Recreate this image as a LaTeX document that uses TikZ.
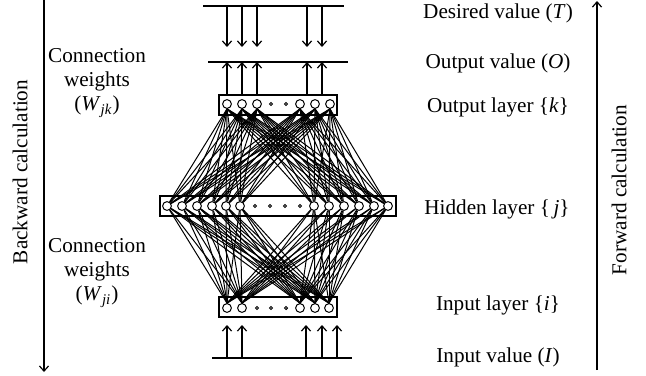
\documentclass[tikz,border=0pt]{standalone}
\usepackage{fontspec}
\setmainfont{Liberation Serif}
\usetikzlibrary{arrows.meta}

\begin{document}
\begin{tikzpicture}[x=0.5pt,y=-0.5pt,>={Straight Barb[length=2.6pt,width=4.6pt]},
  neuron/.style={circle,draw,inner sep=0pt,minimum size=4.4pt,line width=0.5pt},
  smalldot/.style={circle,draw,inner sep=0pt,minimum size=1.6pt,line width=0.45pt},
  layerbox/.style={draw,line width=0.6pt},
  bar/.style={line width=0.6pt},
  link/.style={line width=0.5pt},
  lab/.style={font=\fontsize{10.6}{12}\selectfont,align=center}]
\useasboundingbox (0,0) rectangle (646,375);

% layer boxes
\draw[layerbox] (219,95) rectangle (337,115);
\draw[layerbox] (160,196) rectangle (396,216);
\draw[layerbox] (219,297) rectangle (337,317);

% neurons
\foreach \x [count=\n] in {227,242,257,300,315,330}
  \node[neuron] (o\n) at (\x,104) {};
\foreach \x [count=\n] in {271,286}
  \node[smalldot] (od\n) at (\x,104) {};
\foreach \x [count=\n] in {167,182,197,212,226,240,314,329,344,359,374,388}
  \node[neuron] (h\n) at (\x,206) {};
\foreach \x [count=\n] in {255,270,285,300}
  \node[smalldot] (hd\n) at (\x,206) {};
\foreach \x [count=\n] in {227,242,300,315,329}
  \node[neuron] (i\n) at (\x,308) {};
\foreach \x [count=\n] in {257,271,286}
  \node[smalldot] (id\n) at (\x,308) {};

% weights
\foreach \a in {1,...,6}
  \foreach \b in {1,...,12}
    \draw[link] (o\a.south) -- (h\b);
\foreach \a in {1,...,5}
  \foreach \b in {1,...,12}
    \draw[link] (i\a.north) -- (h\b);

% values
\draw[bar] (203,6) -- (344,6);
\draw[bar] (208,62) -- (348,62);
\draw[bar] (212,358) -- (352,358);
\foreach \x in {227,242,257,307,322} {
  \draw[bar,->] (\x,6) -- (\x,47);
  \draw[bar,->] (\x,95) -- (\x,62);
}
\foreach \x in {227,242,306,322,337}
  \draw[bar,->] (\x,358) -- (\x,325);

% labels
\node[lab] (desired) at (498,13) {Desired value (\textit{T})};
\node[lab] (outval) at (498,63) {Output value (\textit{O})};
\node[lab] (outlay) at (498,107) {Output layer \{\textit{k}\}};
\node[lab] (hidlay) at (497,209) {Hidden layer \{\,\textit{j}\}};
\node[lab] (inlay) at (498,305) {Input layer \{\textit{i}\}};
\node[lab] (inval) at (498,357) {Input value (\textit{I})};
\node[lab] (wjk) at (97,83) {Connection\\weights\\(\textit{W}\textsubscript{\textit{jk}})};
\node[lab] (wji) at (97,273) {Connection\\weights\\(\textit{W}\textsubscript{\textit{ji}})};
\node[lab,rotate=90] (back) at (20,172) {Backward calculation};
\node[lab,rotate=90] (fwd) at (619,190) {Forward calculation};

% directions
\draw[bar,->] (44,0) -- (44,372);
\draw[bar,->] (597,370) -- (597,1);
\end{tikzpicture}
\end{document}
